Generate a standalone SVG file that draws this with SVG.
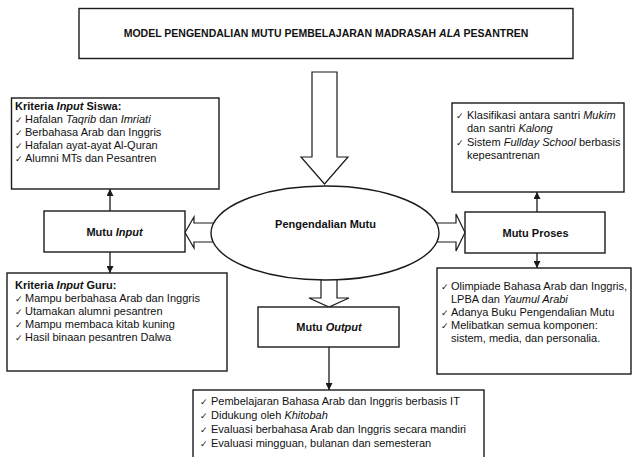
<svg xmlns="http://www.w3.org/2000/svg" width="632" height="457" viewBox="0 0 632 457">
  <style>
    text { font-family: "Liberation Sans", Arial, sans-serif; font-size: 11px; fill: #111; }
    .b { font-weight: bold; }
    .i { font-style: italic; }
    .c { font-family: "DejaVu Sans", sans-serif; font-size: 9px; }
    .mid { text-anchor: middle; }
    .box { fill: #fff; stroke: #1a1a1a; stroke-width: 1.4; }
    .blk { fill: #fff; stroke: #1a1a1a; stroke-width: 1.2; stroke-linejoin: miter; }
    .ln { fill: none; stroke: #1a1a1a; stroke-width: 1.3; }
  </style>
  <defs>
    <marker id="tri" viewBox="0 0 8 8" markerWidth="7" markerHeight="7" refX="8" refY="4" orient="auto" markerUnits="userSpaceOnUse">
      <path d="M0,0 L8,4 L0,8 Z" fill="#1a1a1a"/>
    </marker>
  </defs>

  <rect width="632" height="457" fill="#fff"/>

  <!-- title -->
  <g id="title">
    <rect class="box" x="79" y="8.5" width="494" height="50"/>
    <text class="b mid" x="326" y="37" style="font-size:10.5px">MODEL PENGENDALIAN MUTU PEMBELAJARAN MADRASAH <tspan class="i">ALA</tspan> PESANTREN</text>
  </g>

  <!-- block arrows -->
  <g id="block-arrows">
    <polygon class="blk" points="312,72 337,72 337,157 348,157 324.5,184 301,157 312,157"/>
    <polygon class="blk" points="185,232.5 194,217 194,223 222,223 222,242 194,242 194,248"/>
    <polygon class="blk" points="428,223 456,223 456,214 465,232.5 456,251 456,242 428,242"/>
    <polygon class="blk" points="321,270 337,270 337,298 349,298 329,307 309,298 321,298"/>
  </g>

  <!-- centre node -->
  <g id="pengendalian">
    <ellipse class="box" cx="325" cy="233" rx="114" ry="47"/>
    <text class="b mid" x="325.5" y="228">Pengendalian Mutu</text>
  </g>

  <!-- thin connectors -->
  <g id="connectors">
    <path class="ln" d="M110,211 V189" marker-end="url(#tri)"/>
    <path class="ln" d="M110,252 V273" marker-end="url(#tri)"/>
    <path class="ln" d="M537,212 V192" marker-end="url(#tri)"/>
    <path class="ln" d="M537,253 V268" marker-end="url(#tri)"/>
    <path class="ln" d="M329,347 V390" marker-end="url(#tri)"/>
  </g>

  <!-- input -->
  <g id="kriteria-siswa">
    <rect class="box" x="11.5" y="98" width="207.5" height="91"/>
    <text x="15" y="110" class="b">Kriteria <tspan class="i">Input</tspan> Siswa:</text>
    <text class="c" x="15" y="123">✓</text><text x="25" y="123">Hafalan <tspan class="i">Taqrib</tspan> dan <tspan class="i">Imriati</tspan></text>
    <text class="c" x="15" y="136">✓</text><text x="25" y="136">Berbahasa Arab dan Inggris</text>
    <text class="c" x="15" y="149">✓</text><text x="25" y="149">Hafalan ayat-ayat Al-Quran</text>
    <text class="c" x="15" y="162">✓</text><text x="25" y="162">Alumni MTs dan Pesantren</text>
  </g>

  <g id="mutu-input">
    <rect class="box" x="44" y="211" width="141" height="41"/>
    <text class="b mid" x="114.5" y="235.5">Mutu <tspan class="i">Input</tspan></text>
  </g>

  <g id="kriteria-guru">
    <rect class="box" x="7" y="273" width="220" height="98"/>
    <text x="15" y="289" class="b">Kriteria <tspan class="i">Input</tspan> Guru:</text>
    <text class="c" x="15" y="302">✓</text><text x="25" y="302">Mampu berbahasa Arab dan Inggris</text>
    <text class="c" x="15" y="315">✓</text><text x="25" y="315">Utamakan alumni pesantren</text>
    <text class="c" x="15" y="328">✓</text><text x="25" y="328">Mampu membaca kitab kuning</text>
    <text class="c" x="15" y="341">✓</text><text x="25" y="341">Hasil binaan pesantren Dalwa</text>
  </g>

  <!-- process -->
  <g id="proses-santri">
    <rect class="box" x="452" y="103" width="172" height="89"/>
    <text class="c" x="456" y="119">✓</text><text x="467" y="119">Klasifikasi antara santri <tspan class="i">Mukim</tspan></text>
    <text x="467" y="132">dan santri <tspan class="i">Kalong</tspan></text>
    <text class="c" x="456" y="146">✓</text><text x="467" y="146">Sistem <tspan class="i">Fullday School</tspan> berbasis</text>
    <text x="467" y="159">kepesantrenan</text>
  </g>

  <g id="mutu-proses">
    <rect class="box" x="465" y="212" width="140" height="41"/>
    <text class="b mid" x="535.5" y="236.5">Mutu Proses</text>
  </g>

  <g id="proses-komponen">
    <rect class="box" x="437" y="268" width="194" height="106"/>
    <text class="c" x="441" y="290">✓</text><text x="451" y="290">Olimpiade Bahasa Arab dan Inggris,</text>
    <text x="451" y="303">LPBA dan <tspan class="i">Yaumul Arabi</tspan></text>
    <text class="c" x="441" y="316">✓</text><text x="451" y="316">Adanya Buku Pengendalian Mutu</text>
    <text class="c" x="441" y="329">✓</text><text x="451" y="329">Melibatkan semua komponen:</text>
    <text x="451" y="342">sistem, media, dan personalia.</text>
  </g>

  <!-- output -->
  <g id="mutu-output">
    <rect class="box" x="258" y="307" width="141" height="40"/>
    <text class="b mid" x="329" y="331">Mutu <tspan class="i">Output</tspan></text>
  </g>

  <g id="output-list">
    <rect class="box" x="193" y="390" width="291" height="80"/>
    <text class="c" x="200" y="405">✓</text><text x="211" y="405">Pembelajaran Bahasa Arab dan Inggris berbasis IT</text>
    <text class="c" x="200" y="419">✓</text><text x="211" y="419">Didukung oleh <tspan class="i">Khitobah</tspan></text>
    <text class="c" x="200" y="433">✓</text><text x="211" y="433">Evaluasi berbahasa Arab dan Inggris secara mandiri</text>
    <text class="c" x="200" y="447">✓</text><text x="211" y="447">Evaluasi mingguan, bulanan dan semesteran</text>
  </g>
</svg>
